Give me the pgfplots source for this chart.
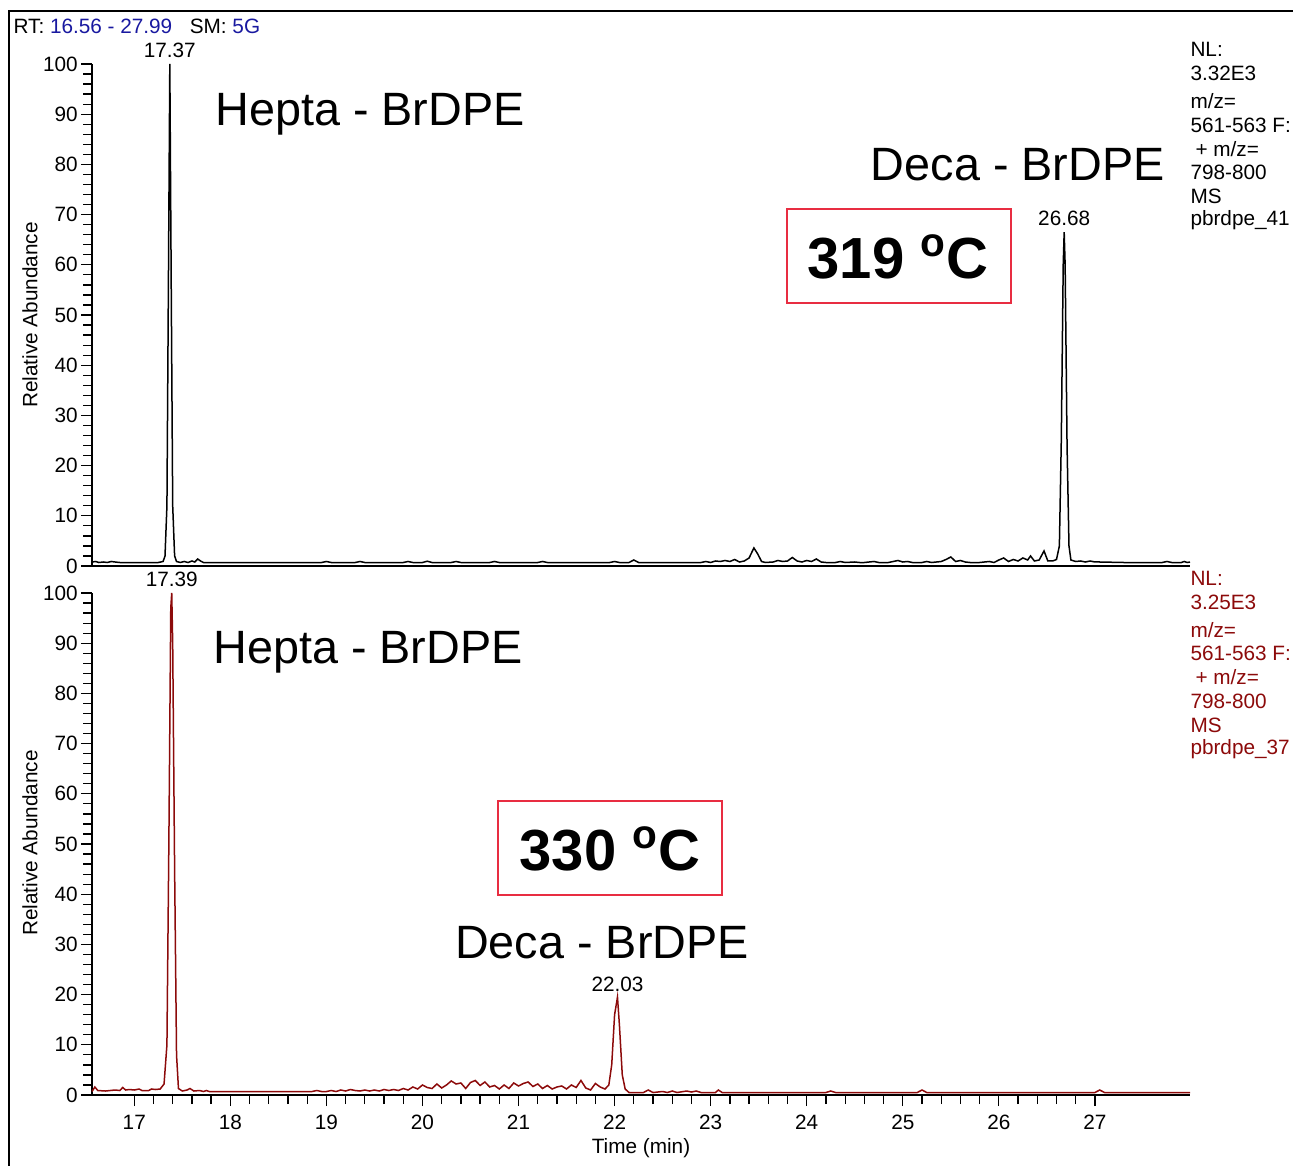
\documentclass[border=0pt]{standalone}
\usepackage{pgfplots}
\pgfplotsset{compat=1.18}
\usepackage{fontspec}
\setmainfont{Liberation Sans}
\definecolor{darkred}{RGB}{140,10,10}
\definecolor{rtblue}{RGB}{25,25,160}
\definecolor{boxred}{RGB}{232,45,65}
\newcommand\sm{\fontsize{8.3}{10}\selectfont}
\newcommand\fbig{\fontsize{18.7}{22}\selectfont}
\newcommand\ftemp{\fontsize{23.2}{27}\selectfont\bfseries}
\pgfplotsset{
  chrom/.style={
    scale only axis, width=439.2pt, height=200.8pt,
    xmin=16.56, xmax=27.99, ymin=0, ymax=100,
    axis x line*=bottom, axis y line*=left,
    axis line style={-, line width=0.8pt, black},
    ytick={0,10,...,100}, minor y tick num=4,
    tick align=outside, major tick length=4.4pt, minor tick length=3.6pt,
    tick style={black, line width=0.5pt},
    ticklabel style={font=\sm},
    yticklabel style={xshift=2.2pt},
    /pgf/number format/assume math mode=true,
    clip=false, enlargelimits=false,
  }
}
\begin{document}
\begin{tikzpicture}
% top panel
\begin{axis}[chrom, at={(36.8pt,-226.4pt)}, anchor=south west, xtick=\empty]
\addplot[black, line width=0.6pt] coordinates {
(16.56,0.8)(16.60,0.9)(16.63,0.7)(16.68,0.8)(16.72,0.7)(16.76,0.9)(16.80,0.8)(16.85,0.7)
(16.95,0.7)(17.05,0.7)(17.15,0.7)(17.25,0.7)(17.30,0.9)(17.32,2.0)(17.34,12)(17.355,55)
(17.37,100)(17.385,55)(17.40,12)(17.42,2.0)(17.44,0.9)(17.48,0.7)(17.52,0.9)(17.56,0.7)
(17.60,1.0)(17.63,0.8)(17.66,1.4)(17.69,1.0)(17.72,0.7)(17.80,0.7)(18.00,0.7)(18.50,0.7)
(18.95,0.7)(19.00,0.9)(19.05,0.7)(19.30,0.7)(19.35,0.9)(19.40,0.7)(19.80,0.7)(19.85,0.9)
(19.90,0.7)(20.00,0.7)(20.05,0.95)(20.10,0.7)(20.30,0.7)(20.35,0.9)(20.40,0.7)(20.70,0.7)
(20.75,0.9)(20.80,0.7)(21.20,0.7)(21.25,0.9)(21.30,0.7)(21.95,0.7)(22.00,0.9)(22.05,0.7)
(22.15,0.7)(22.20,1.2)(22.25,0.7)(22.90,0.7)(22.95,0.9)(23.00,0.7)(23.05,1.0)(23.10,0.9)
(23.15,1.1)(23.20,0.9)(23.25,1.3)(23.30,0.8)(23.35,1.0)(23.40,1.6)(23.45,3.6)(23.49,2.4)
(23.53,0.9)(23.57,0.7)(23.65,0.8)(23.70,1.1)(23.75,0.9)(23.80,1.0)(23.85,1.7)(23.90,1.0)
(23.95,0.8)(24.00,1.1)(24.05,0.9)(24.10,1.4)(24.15,0.8)(24.20,0.7)(24.30,0.7)(24.35,0.9)
(24.40,0.7)(24.50,0.8)(24.55,0.7)(24.60,0.7)(24.70,0.9)(24.75,0.7)(24.85,0.7)(24.90,0.9)
(24.95,1.1)(25.00,0.8)(25.05,0.9)(25.10,0.7)(25.20,0.7)(25.25,0.9)(25.30,0.7)(25.40,0.9)
(25.45,1.3)(25.50,1.8)(25.55,0.9)(25.60,1.1)(25.65,0.8)(25.70,0.7)(25.80,0.7)(25.90,0.9)
(25.95,0.7)(26.00,1.2)(26.05,1.6)(26.10,0.9)(26.15,1.3)(26.20,1.0)(26.25,1.6)(26.30,1.2)
(26.33,2.0)(26.37,1.0)(26.42,1.2)(26.47,3.0)(26.51,1.0)(26.56,1.0)(26.60,1.3)(26.63,4)
(26.65,25)(26.67,60)(26.68,66.5)(26.69,60)(26.71,24)(26.73,4)(26.75,1.2)(26.80,0.9)
(26.85,1.0)(26.90,0.8)(26.95,1.0)(27.00,0.8)(27.05,0.8)(27.30,0.7)(27.70,0.7)(27.75,0.9)
(27.80,0.7)(27.90,0.7)(27.93,0.9)(27.96,0.7)(27.99,0.8)
};
\node[anchor=south, inner sep=0pt, font=\sm, yshift=2.4pt] at (axis cs:17.37,100) {17.37};
\node[anchor=south, inner sep=0pt, font=\sm, yshift=2.4pt] at (axis cs:26.68,66.5) {26.68};
\end{axis}
% bottom panel
\begin{axis}[chrom, at={(36.8pt,-438pt)}, anchor=south west,
  xtick={17,...,27}, minor x tick num=4]
\addplot[darkred, line width=0.6pt] coordinates {
(16.56,0.7)(16.59,1.6)(16.62,0.9)(16.70,0.8)(16.80,1.0)(16.85,0.9)(16.88,1.5)(16.91,1.0)
(16.95,1.1)(17.00,1.0)(17.05,1.2)(17.08,0.9)(17.15,0.9)(17.18,1.2)(17.22,1.1)(17.27,1.2)
(17.31,2.2)(17.34,10)(17.36,50)(17.38,97)(17.39,100)(17.40,90)(17.42,45)(17.44,8)
(17.46,1.3)(17.50,0.8)(17.55,1.0)(17.58,1.3)(17.62,0.8)(17.68,0.9)(17.72,0.7)(17.75,0.9)
(17.78,0.7)(18.00,0.7)(18.50,0.7)(18.85,0.7)(18.90,0.9)(18.95,0.7)
(19.00,0.7)(19.05,0.9)(19.10,0.7)(19.15,1.0)(19.20,0.8)(19.25,1.1)(19.30,0.9)(19.35,0.8)
(19.40,1.0)(19.45,0.8)(19.50,1.0)(19.55,0.8)(19.60,1.1)(19.65,0.9)(19.70,1.1)(19.75,0.9)
(19.80,1.3)(19.85,1.0)(19.90,1.6)(19.95,1.2)(20.00,2.0)(20.05,1.5)(20.10,1.3)(20.15,2.2)
(20.20,1.4)(20.25,2.0)(20.30,2.8)(20.35,2.2)(20.40,2.4)(20.45,1.3)(20.50,2.5)(20.55,2.9)
(20.60,1.9)(20.65,2.6)(20.70,1.6)(20.75,1.9)(20.80,1.2)(20.85,2.0)(20.90,1.3)(20.95,2.4)
(21.00,1.8)(21.05,2.3)(21.10,2.6)(21.15,1.7)(21.20,2.2)(21.25,1.3)(21.30,1.9)(21.35,1.2)
(21.40,1.6)(21.45,1.8)(21.50,1.2)(21.55,2.0)(21.60,1.5)(21.65,2.9)(21.70,1.4)(21.75,1.0)
(21.80,2.3)(21.85,1.6)(21.90,1.2)(21.94,2.0)(21.97,6)(22.00,16)(22.03,19.5)(22.05,14)
(22.08,4)(22.11,1.2)(22.15,0.5)(22.30,0.5)(22.35,1.0)(22.40,0.5)(22.50,0.7)(22.55,0.5)
(22.60,0.8)(22.65,0.5)(22.75,0.8)(22.80,0.6)(22.85,0.8)(22.90,0.5)(23.05,0.5)(23.08,1.0)
(23.12,0.5)(23.30,0.5)(23.60,0.5)(24.20,0.5)(24.25,0.8)(24.30,0.5)(25.15,0.5)(25.20,1.0)
(25.25,0.5)(27.00,0.5)(27.05,1.0)(27.10,0.5)(27.99,0.5)
};
\node[anchor=south, inner sep=0pt, font=\sm, yshift=2.4pt] at (axis cs:17.39,100) {17.39};
\node[anchor=south, inner sep=0pt, font=\sm, yshift=2pt] at (axis cs:22.03,19.5) {22.03};
\end{axis}
\begin{scope}[x=0.4pt, y=-0.4pt]
\useasboundingbox (0,0) rectangle (1293,1166);
\draw[line width=1pt] (9,1166) -- (9,11) -- (1293,11);
\node[anchor=base west, inner sep=0pt, font=\sm] at (13,33)
  {RT: {\color{rtblue}16.56 - 27.99}\hspace{7pt}SM: {\color{rtblue}5G}};
\node[rotate=90, font=\sm] at (30,315) {Relative Abundance};
\node[rotate=90, font=\sm] at (30,843) {Relative Abundance};
\node[font=\sm] at (641,1148) {Time (min)};
% big labels
\node[anchor=base west, inner sep=0pt, font=\fbig] at (215,125) {Hepta - BrDPE};
\node[anchor=base east, inner sep=0pt, font=\fbig] at (1165,180) {Deca - BrDPE};
\node[anchor=base west, inner sep=0pt, font=\fbig] at (213,663) {Hepta - BrDPE};
\node[anchor=base, inner sep=0pt, font=\fbig] at (602,958) {Deca - BrDPE};
\draw[boxred, line width=0.8pt] (787,209) rectangle (1011,303);
\node[font=\ftemp] at (898,257) {319 \textsuperscript{o}C};
\draw[boxred, line width=0.8pt] (498,801) rectangle (722,895);
\node[font=\ftemp] at (610,849) {330 \textsuperscript{o}C};
% right text top
\foreach \yy/\txt in {49/{NL:}, 73/{3.32E3}, 101/{m/z=}, 125/{561-563 F:}, 149/{\hspace{2pt}+ m/z=}, 172/{798-800}, 196/{MS}, 220/{pbrdpe\_41}}
  \node[anchor=west, inner sep=0pt, font=\sm] at (1190,\yy) {\txt};
\foreach \yy/\txt in {578/{NL:}, 602/{3.25E3}, 630/{m/z=}, 653/{561-563 F:}, 677/{\hspace{2pt}+ m/z=}, 701/{798-800}, 725/{MS}, 749/{pbrdpe\_37}}
  \node[anchor=west, inner sep=0pt, font=\sm, text=darkred] at (1190,\yy) {\txt};
\end{scope}
\end{tikzpicture}
\end{document}
